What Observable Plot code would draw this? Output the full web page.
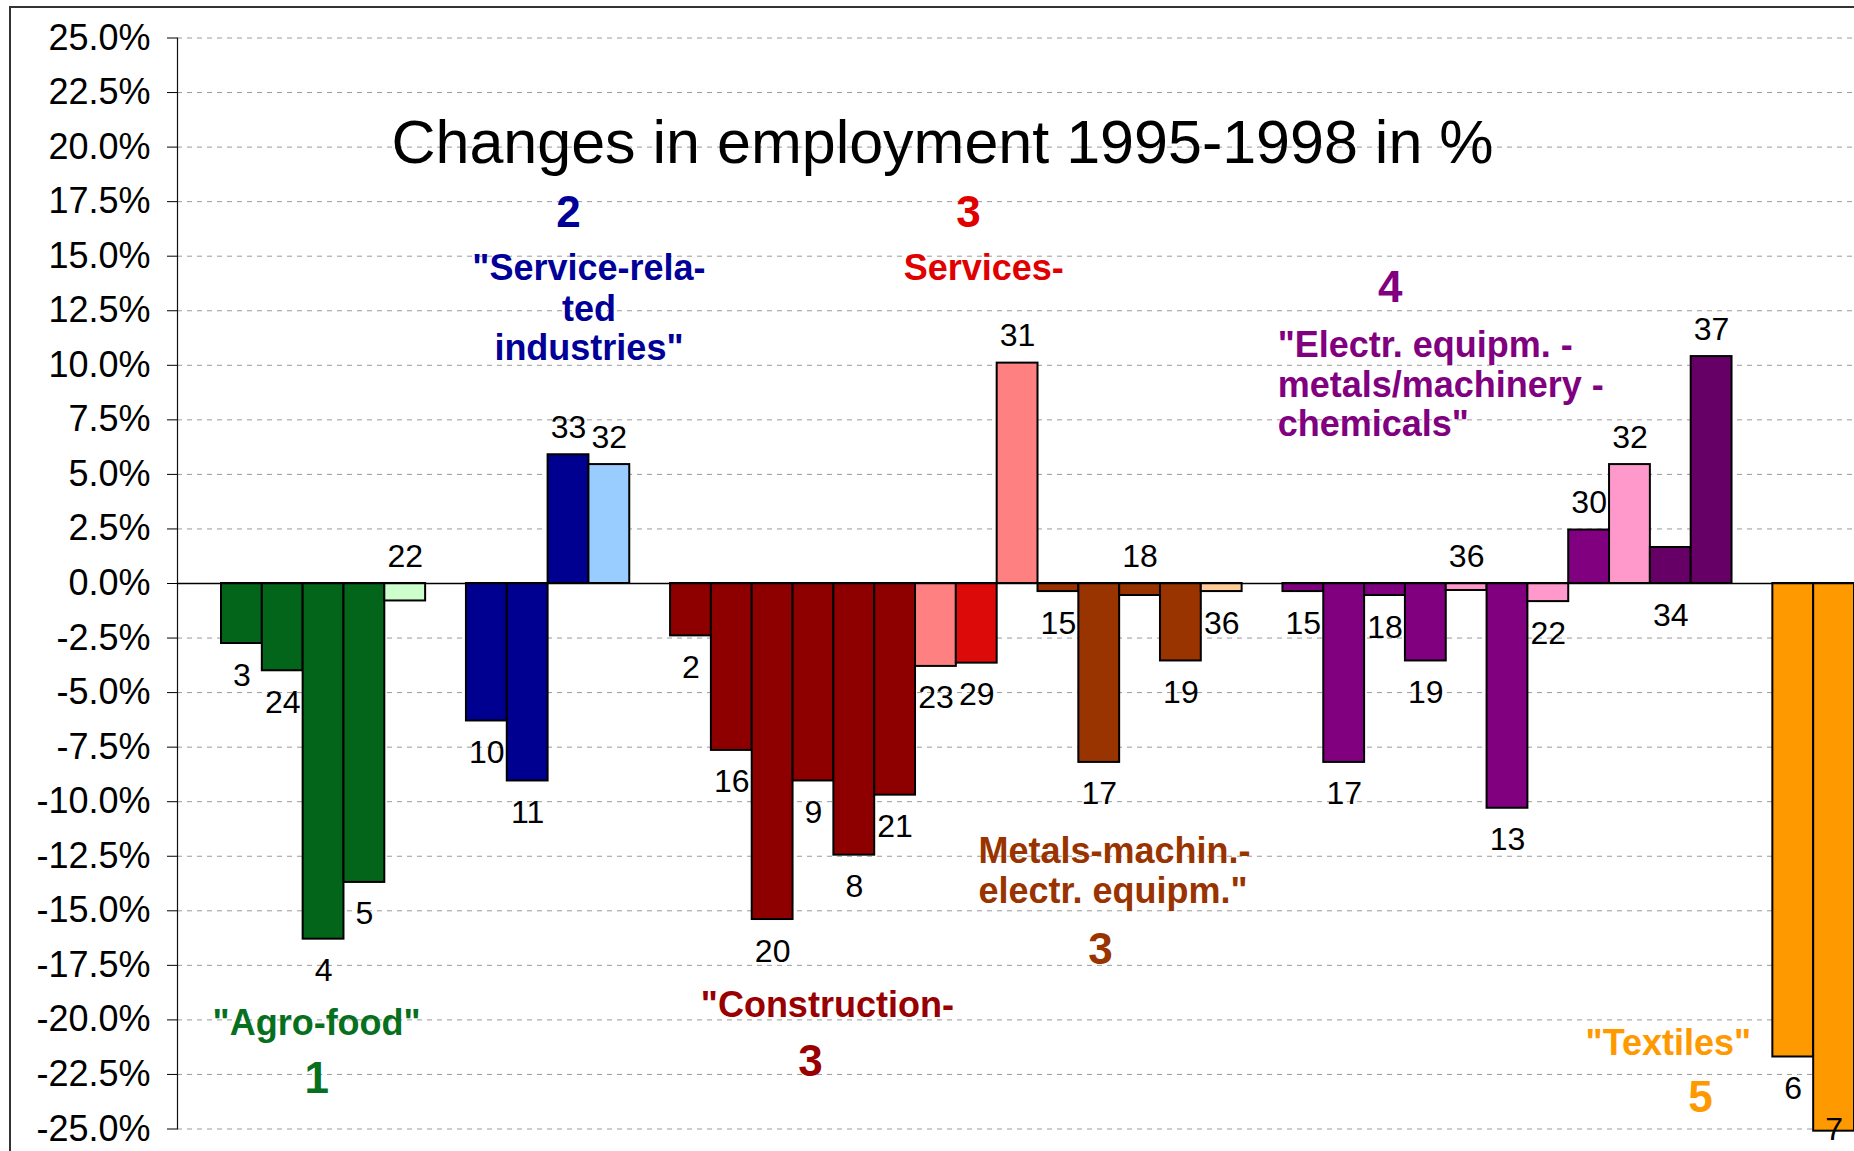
<!DOCTYPE html>
<html>
<head>
<meta charset="utf-8">
<script src="https://cdn.jsdelivr.net/npm/d3@7"></script>
<script src="https://cdn.jsdelivr.net/npm/@observablehq/plot@0.6"></script>
<style>
  html, body { margin: 0; padding: 0; background: #fff; overflow: hidden; }
  #wrap { position: relative; width: 1854px; height: 1151px; }
  #frame { position: absolute; left: 9px; top: 6px; width: 1900px; height: 1200px;
           border-left: 2px solid #333; border-top: 2px solid #333; pointer-events: none; }
  svg { display: block; }
</style>
</head>
<body>
<div id="wrap"><div id="frame"></div></div>
<script>
// ---------- DATA ----------
const clusters = [1,1,1,1,1, 2,2,2,2, 3,3,3,3,3,3,3,3,3,3,3,3,3,3, 4,4,4,4,4,4,4,4,4,4,4, 5,5];
const codes = ["3","24","4","5","22",
               "10","11","33","32",
               "2","16","20","9","8","21","23","29","31","15","17","18","19","36",
               "15","17","18","19","36","13","22","30","32","34","37",
               "6","7"];
const values = [-2.75,-4.0,-16.3,-13.7,-0.8,
                -6.3,-9.05,5.9,5.45,
                -2.4,-7.65,-15.4,-9.05,-12.45,-9.7,-3.8,-3.65,10.1,-0.37,-8.2,-0.55,-3.55,-0.37,
                -0.37,-8.2,-0.55,-3.55,-0.32,-10.3,-0.83,2.45,5.45,1.65,10.4,
                -21.7,-25.1];
const shades = ["green","green","green","green","lightgreen",
                "navy","navy","navy","lightblue",
                "darkred","darkred","darkred","darkred","darkred","darkred","salmon","red","salmon","brown","brown","brown","brown","peach",
                "purple","purple","purple","purple","pink","purple","pink","purple","pink","darkpurple","darkpurple",
                "orange","orange"];
const tickValues = [-25,-22.5,-20,-17.5,-15,-12.5,-10,-7.5,-5,-2.5,0,2.5,5,7.5,10,12.5,15,17.5,20,22.5,25];
const titleText = "Changes in employment 1995-1998 in %";

// ---------- STYLE / PLACEMENT ----------
const palette = {green:"#03651a", lightgreen:"#ccffcc", navy:"#000090", lightblue:"#99ccff",
  darkred:"#8e0000", salmon:"#ff8080", red:"#dd0a0a", brown:"#993300", peach:"#ffcc99",
  purple:"#800080", pink:"#ff99cc", darkpurple:"#660066", orange:"#ff9900"};
const groupColor = {agro:"#07701f", service:"#000099", services:"#e00000", construction:"#990000",
  metals:"#993300", electr:"#800080", textiles:"#ff9900", title:"#000"};
// which side of the bar its code label sits on
const labelSide = ["b","b","b","b","a",
                   "b","b","a","a",
                   "b","b","b","b","b","b","b","b","a","b","b","a","b","b",
                   "b","b","b","b","a","b","b","a","a","b","a",
                   "b","b"];
// annotations in data units (x: bar slots, y: %)
const annotations = [
  {text: titleText, x: 17.66, y: 19.25, kind: "title", group: "title"},
  {text: "2", x: 8.5, y: 16.32, kind: "num", group: "service"},
  {text: "\"Service-rela-", x: 9.0, y: 13.93, kind: "mid", group: "service"},
  {text: "ted", x: 9.0, y: 12.05, kind: "mid", group: "service"},
  {text: "industries\"", x: 9.0, y: 10.22, kind: "mid", group: "service"},
  {text: "3", x: 18.3, y: 16.32, kind: "num", group: "services"},
  {text: "Services-", x: 18.67, y: 13.9, kind: "mid", group: "services"},
  {text: "4", x: 28.63, y: 12.92, kind: "num", group: "electr"},
  {text: "\"Electr. equipm. -", x: 25.87, y: 10.36, kind: "start", group: "electr"},
  {text: "metals/machinery -", x: 25.87, y: 8.54, kind: "start", group: "electr"},
  {text: "chemicals\"", x: 25.87, y: 6.78, kind: "start", group: "electr"},
  {text: "\"Agro-food\"", x: 2.33, y: -20.67, kind: "mid", group: "agro"},
  {text: "1", x: 2.33, y: -23.33, kind: "num", group: "agro"},
  {text: "\"Construction-", x: 14.84, y: -19.89, kind: "mid", group: "construction"},
  {text: "3", x: 14.43, y: -22.55, kind: "num", group: "construction"},
  {text: "Metals-machin.-", x: 18.54, y: -12.83, kind: "start", group: "metals"},
  {text: "electr. equipm.\"", x: 18.54, y: -14.62, kind: "start", group: "metals"},
  {text: "3", x: 21.53, y: -17.42, kind: "num", group: "metals"},
  {text: "\"Textiles\"", x: 35.44, y: -21.59, kind: "mid", group: "textiles"},
  {text: "5", x: 36.23, y: -24.24, kind: "num", group: "textiles"}
];

// build rows, one empty slot between clusters
let slot = 0, prev = clusters[0];
const rows = codes.map((code, i) => {
  if (clusters[i] !== prev) { slot++; prev = clusters[i]; }
  return {code, value: values[i], shade: shades[i], cluster: clusters[i], side: labelSide[i], slot: slot++};
});
const nSlots = slot;
const yDomain = [tickValues[0], tickValues[tickValues.length - 1]];
const fmt = d => d.toFixed(1) + "%";
const font = "'Liberation Sans', Arial, Helvetica, sans-serif";

const annText = (kind, opts) => Plot.text(annotations.filter(d => d.kind === kind), {
  x: "x", y: "y", text: "text", fill: d => groupColor[d.group], lineAnchor: "bottom",
  ariaLabel: "annotation-" + kind, ...opts
});

const plot = Plot.plot({
  width: 1854, height: 1151,
  marginLeft: 177, marginRight: 0, marginTop: 37.5, marginBottom: 22.5,
  style: {fontFamily: font, background: "white", overflow: "visible"},
  x: {type: "linear", domain: [0, nSlots], range: [221, 1854], axis: null},
  y: {domain: yDomain},
  color: {type: "identity"},
  marks: [
    Plot.gridY(tickValues, {stroke: "#9a9a9a", strokeOpacity: 1, strokeWidth: 1, strokeDasharray: "5,5"}),
    Plot.frame({anchor: "left", stroke: "#111", strokeWidth: 1.2}),
    Plot.axisY(tickValues, {anchor: "left", tickSize: 10, tickPadding: 17, tickFormat: fmt,
      fontSize: 36, color: "black", label: null}),
    Plot.rect(rows, {x1: "slot", x2: d => d.slot + 1, y1: 0, y2: "value",
      fill: d => palette[d.shade], stroke: "black", strokeWidth: 2}),
    Plot.ruleY([0], {stroke: "black", strokeWidth: 1.5}),
    Plot.text(rows.filter(d => d.side === "b"), {
      x: d => d.slot + 0.5, y: d => Math.max(Math.min(d.value, 0), yDomain[0] + 1.4),
      text: "code", lineAnchor: "bottom", dy: 42, fontSize: 32, fill: "black"}),
    Plot.text(rows.filter(d => d.side === "a"), {
      x: d => d.slot + 0.5, y: d => Math.max(d.value, 0),
      text: "code", lineAnchor: "bottom", dy: -17, fontSize: 32, fill: "black"}),
    annText("title", {fontSize: 61, fontWeight: "normal", textAnchor: "middle"}),
    annText("num", {fontSize: 44, fontWeight: "bold", textAnchor: "middle"}),
    annText("mid", {fontSize: 36, fontWeight: "bold", textAnchor: "middle"}),
    annText("start", {fontSize: 36, fontWeight: "bold", textAnchor: "start"})
  ]
});

document.getElementById("wrap").prepend(plot);

// white boxes behind annotation texts (hide gridlines under them)
const NS = "http://www.w3.org/2000/svg";
const grid = plot.querySelector('g[aria-label="y-grid"]');
const boxes = document.createElementNS(NS, "g");
if (grid) grid.after(boxes); else plot.prepend(boxes);
plot.querySelectorAll('g[aria-label^="annotation"] text').forEach(t => {
  const b = t.getBBox();
  const m = t.getCTM();
  const isTitle = t.closest('g[aria-label="annotation-title"]') !== null;
  const px = isTitle ? 20 : 3;
  const r = document.createElementNS(NS, "rect");
  r.setAttribute("x", m.a * b.x + m.e - px);
  r.setAttribute("y", m.d * b.y + m.f);
  r.setAttribute("width", b.width + 2 * px);
  r.setAttribute("height", b.height);
  r.setAttribute("fill", "white");
  boxes.appendChild(r);
});
</script>
</body>
</html>
